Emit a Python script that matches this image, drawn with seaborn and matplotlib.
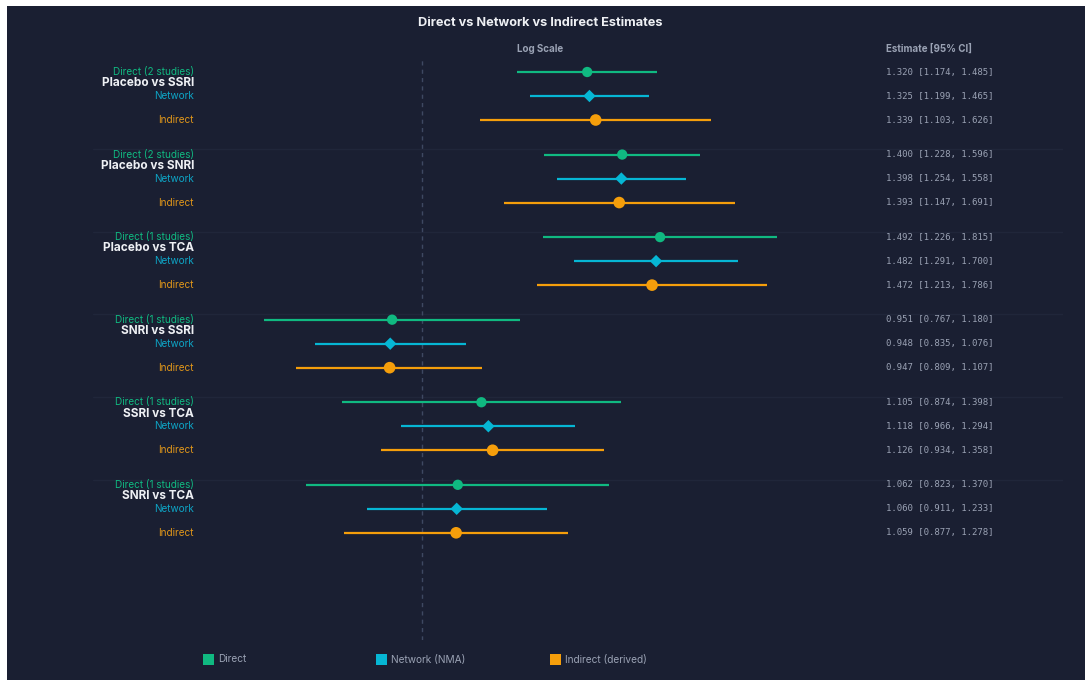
import numpy as np
import pandas as pd
import seaborn as sns
import matplotlib
matplotlib.use("Agg")
import matplotlib.pyplot as plt
from matplotlib.patches import Rectangle
from matplotlib.transforms import blended_transform_factory

# ---- data ----
comparisons = ["Placebo vs SSRI", "Placebo vs SNRI", "Placebo vs TCA",
               "SNRI vs SSRI", "SSRI vs TCA", "SNRI vs TCA"]
direct_studies = [2, 2, 1, 1, 1, 1]

direct_est = [1.320, 1.400, 1.492, 0.951, 1.105, 1.062]
direct_lo = [1.174, 1.228, 1.226, 0.767, 0.874, 0.823]
direct_hi = [1.485, 1.596, 1.815, 1.180, 1.398, 1.370]

network_est = [1.325, 1.398, 1.482, 0.948, 1.118, 1.060]
network_lo = [1.199, 1.254, 1.291, 0.835, 0.966, 0.911]
network_hi = [1.465, 1.558, 1.700, 1.076, 1.294, 1.233]

indirect_est = [1.339, 1.393, 1.472, 0.947, 1.126, 1.059]
indirect_lo = [1.103, 1.147, 1.213, 0.809, 0.934, 0.877]
indirect_hi = [1.626, 1.691, 1.786, 1.107, 1.358, 1.278]

sources = ["Direct", "Network", "Indirect"]
legend_labels = ["Direct", "Network (NMA)", "Indirect (derived)"]

# ---- style ----
BG = "#1a1f32"
COLORS = {"Direct": "#10b981", "Network": "#06b6d4", "Indirect": "#f59e0b"}
TEXT_COLORS = {"Direct": "#10b981", "Network": "#0ea5c6", "Indirect": "#e0961a"}
MARKERS = {"Direct": "o", "Network": "D", "Indirect": "o"}
SIZES = {"Direct": 55, "Network": 40, "Indirect": 70}

sns.set_theme(style="dark")
plt.rcParams["font.family"] = ["Inter", "DejaVu Sans"]

W, H = 1085, 684
fig = plt.figure(figsize=(W / 100, H / 100), dpi=100, facecolor="white")

# dark canvas inside a thin white margin
fig.patches.append(Rectangle((7 / W, 1 - 680 / H), 1 - 7 / W, (680 - 6) / H,
                             transform=fig.transFigure, facecolor=BG,
                             edgecolor="none", zorder=0))

# tidy frame
rows = []
GROUP_STEP = 3.44
for g, comp in enumerate(comparisons):
    ests = [direct_est[g], network_est[g], indirect_est[g]]
    los = [direct_lo[g], network_lo[g], indirect_lo[g]]
    his = [direct_hi[g], network_hi[g], indirect_hi[g]]
    for r, src in enumerate(sources):
        rows.append(dict(comparison=comp, source=src, est=ests[r], lo=los[r], hi=his[r],
                         y=g * GROUP_STEP + r, group=g))
df = pd.DataFrame(rows)

# axes placement (pixels)
ax_left, ax_right, ax_top, ax_bot = 93, 1063, 60, 640
ax = fig.add_axes([ax_left / W, 1 - ax_bot / H, (ax_right - ax_left) / W, (ax_bot - ax_top) / H])
ax.set_zorder(5)
ax.set_facecolor("none")
ax.patch.set_alpha(0)
ax.set_xscale("log")
ref_px, px_per_ln = 422, 595
ax.set_xlim(np.exp((ax_left - ref_px) / px_per_ln), np.exp((ax_right - ref_px) / px_per_ln))
ax.set_ylim((ax_bot - 72) / 24, -0.5)

# null reference line
ax.axvline(1.0, color="#3e4862", lw=1, ls=(0, (3, 3)), zorder=1)

# group separators
for g in range(1, len(comparisons)):
    ax.axhline(g * GROUP_STEP - 0.22, color="#20263a", lw=1, zorder=0.5)

# confidence intervals
for src in sources:
    sub = df[df.source == src]
    ax.hlines(sub.y, sub.lo, sub.hi, color=COLORS[src], lw=1.6, zorder=2)

# point estimates
for src in sources:
    sub = df[df.source == src]
    sns.scatterplot(data=sub, x="est", y="y", ax=ax, marker=MARKERS[src], s=SIZES[src],
                    color=COLORS[src], edgecolor="none", zorder=3, legend=False)

for s in ax.spines.values():
    s.set_visible(False)
ax.set_xticks([])
ax.set_xticks([], minor=True)
ax.set_yticks([])
ax.set_xlabel("")
ax.set_ylabel("")
ax.grid(False)

# left labels
lab_tr = blended_transform_factory(fig.transFigure, ax.transData)
lx = 194 / W
for g, comp in enumerate(comparisons):
    base = g * GROUP_STEP
    ax.text(lx, base, f"Direct ({direct_studies[g]} studies)", transform=lab_tr, ha="right",
            va="center", fontsize=7.2, color=TEXT_COLORS["Direct"])
    ax.text(lx, base + 0.47, comp, transform=lab_tr, ha="right", va="center",
            fontsize=8.5, fontweight="bold", color="#eef0f4")
    ax.text(lx, base + 1, "Network", transform=lab_tr, ha="right", va="center",
            fontsize=7.2, color=TEXT_COLORS["Network"])
    ax.text(lx, base + 2, "Indirect", transform=lab_tr, ha="right", va="center",
            fontsize=7.2, color=TEXT_COLORS["Indirect"])

# estimate column
cx = 886 / W
for _, row in df.iterrows():
    ax.text(cx, row.y, f"{row.est:.3f} [{row.lo:.3f}, {row.hi:.3f}]", transform=lab_tr,
            ha="left", va="center", fontsize=6.5, family="DejaVu Sans Mono", color="#9aa2b4")

# headers
fig.text(540 / W, 1 - 23 / H, "Direct vs Network vs Indirect Estimates", ha="center",
         va="center", fontsize=9.2, fontweight="bold", color="#eef0f4")
fig.text(540 / W, 1 - 49 / H, "Log Scale", ha="center", va="center", fontsize=7,
         fontweight="bold", color="#9aa2b4")
fig.text(886 / W, 1 - 49 / H, "Estimate [95% CI]", ha="left", va="center", fontsize=7,
         fontweight="bold", color="#9aa2b4")

# legend
leg_x = [203, 376, 550]
for lx_px, src, lab in zip(leg_x, sources, legend_labels):
    fig.patches.append(Rectangle((lx_px / W, 1 - 665 / H), 11 / W, 11 / H,
                                 transform=fig.transFigure, facecolor=COLORS[src],
                                 edgecolor="none", zorder=2))
    fig.text((lx_px + 15) / W, 1 - 659.5 / H, lab, ha="left", va="center", fontsize=7.3,
             color="#9aa2b4")

fig.savefig("out.png", dpi=100, facecolor="white")
